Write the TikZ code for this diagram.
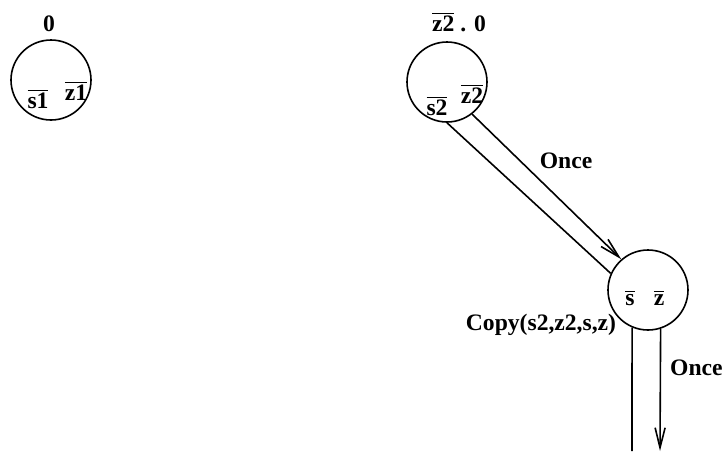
\documentclass[tikz,border=0pt]{standalone}
\usepackage{fontspec}
\setmainfont{Liberation Serif}
\usetikzlibrary{arrows.meta,positioning,calc}
\tikzset{
  state/.style   ={circle,draw,thick,minimum size=40pt,inner sep=0pt},
  lbl/.style     ={font=\fontsize{11.8}{13}\selectfont\bfseries,inner sep=1pt},
  copyedge/.style={thick},
  onceedge/.style={thick,-{Straight Barb[length=10pt,width=5pt]}},
}
\newcommand{\ovl}[1]{$\overline{\mbox{#1}}$}

\begin{document}
\begin{tikzpicture}[x=0.5pt,y=-0.5pt]
  \useasboundingbox (0,0) rectangle (723,451);
  \node[state] (p1) at (51,80){};
  \node[state] (p2) at (447,82){};
  \node[state] (p3) at (648,290){};
  % state labels
  \node[lbl] (t1) at (49,24){0};
  \node[lbl] (t2) at (459,22){\ovl{z2} . 0};
  % variables inside the states
  \node[lbl] (s1) at (38,99){\ovl{s1}};
  \node[lbl] (z1) at (76,91){\ovl{z1}};
  \node[lbl] (s2) at (437,106){\ovl{s2}};
  \node[lbl] (z2) at (472,94){\ovl{z2}};
  \node[lbl] (s3) at (630,298){\ovl{s}};
  \node[lbl] (z3) at (659,298){\ovl{z}};
  % transitions
  \coordinate (d1) at (632,451);
  \coordinate (d2) at (660,451);
  \draw[copyedge] (p2.-90) -- (p3.156);
  \draw[onceedge] (p2.-52) -- (p3.131);
  \draw[copyedge] (p3.-113) -- (d1);
  \draw[onceedge] (p3.-72) -- (d2);
  \node[lbl] (o1) at (566,161){Once};
  \node[lbl,anchor=east,inner sep=0pt] (o2) at (723,368){Once};
  \node[lbl] (cp) at (541,325){Copy(s2,z2,s,z)};
\end{tikzpicture}
\end{document}
